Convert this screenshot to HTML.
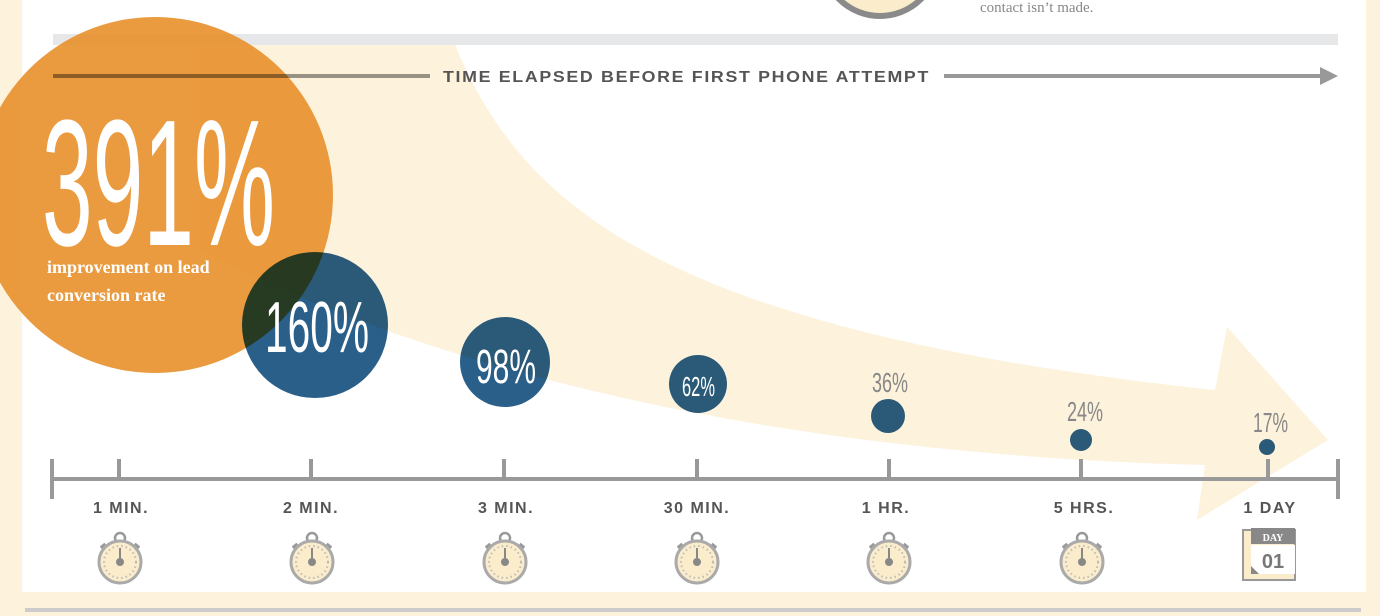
<!DOCTYPE html>
<html><head><meta charset="utf-8"><style>
html,body{margin:0;padding:0;background:#fdf2dc;}
svg{display:block}
.lab{font-family:"Liberation Sans",sans-serif;font-weight:bold;font-size:16px;fill:#555;letter-spacing:1.5px}
.num{font-family:"Liberation Sans",sans-serif;fill:#fff}
</style></head><body>
<svg width="1380" height="616" viewBox="0 0 1380 616" xmlns="http://www.w3.org/2000/svg">
<defs>
<g id="sw">
  <circle cx="0" cy="-24" r="5" fill="none" stroke="#999" stroke-width="2.5"/>
  <rect x="-3" y="-20" width="6" height="5" fill="#999"/>
  <rect x="-19" y="-18" width="6" height="5" fill="#999" transform="rotate(-40 -16 -15)"/>
  <rect x="13" y="-18" width="6" height="5" fill="#999" transform="rotate(40 16 -15)"/>
  <circle cx="0" cy="0" r="21" fill="#fbeccb" stroke="#aaa" stroke-width="3"/>
  <circle cx="0" cy="0" r="16" fill="none" stroke="#bbb" stroke-width="2" stroke-dasharray="1.5 3"/>
  <rect x="-1" y="-14" width="2" height="13" fill="#888"/>
  <circle cx="0" cy="0" r="4" fill="#888"/>
</g>
</defs>
<rect x="22" y="0" width="1344" height="592" fill="#fff"/>
<rect x="25" y="608" width="1336" height="4" fill="#ccc"/>
<circle cx="880" cy="-42" r="58" fill="#fbeccb" stroke="#8a8a8a" stroke-width="6"/>
<text x="980" y="12" font-family="'Liberation Serif',serif" font-size="15" fill="#888">contact isn’t made.</text>
<path d="M 455,45 C 520,200 650,330 1215,390 L 1227,327 L 1328,440 L 1197,520 L 1205,465 C 800,455 450,380 200,250 L 200,45 Z" fill="#fdf2dc"/>
<rect x="53" y="34" width="1285" height="11" fill="#e6e7e8"/>
<circle cx="155" cy="195" r="178" fill="#e8922f" opacity="0.92"/>
<rect x="53" y="74" width="377" height="4" fill="#999" style="mix-blend-mode:multiply"/>
<text x="443" y="82" class="lab" textLength="487" lengthAdjust="spacingAndGlyphs">TIME ELAPSED BEFORE FIRST PHONE ATTEMPT</text>
<rect x="944" y="74" width="382" height="4" fill="#999"/>
<polygon points="1320,67 1338,76 1320,85" fill="#999"/>
<text x="42" y="245" class="num" font-size="180" textLength="233" lengthAdjust="spacingAndGlyphs">391%</text>
<text x="47" y="273" font-family="'Liberation Serif',serif" font-weight="bold" font-size="18" fill="#fff">improvement on lead</text>
<text x="47" y="301" font-family="'Liberation Serif',serif" font-weight="bold" font-size="18" fill="#fff">conversion rate</text>
<g fill="#2a5f8a" style="mix-blend-mode:multiply">
<circle cx="315" cy="325" r="73"/>
<circle cx="505" cy="362" r="45"/>
<circle cx="698" cy="384" r="29"/>
<circle cx="888" cy="416" r="17"/>
<circle cx="1081" cy="440" r="11"/>
<circle cx="1267" cy="447" r="8"/>
</g>
<text x="265" y="352" class="num" font-size="72" textLength="104" lengthAdjust="spacingAndGlyphs">160%</text>
<text x="476" y="383" class="num" font-size="48" textLength="60" lengthAdjust="spacingAndGlyphs">98%</text>
<text x="682" y="396" class="num" font-size="28" textLength="33" lengthAdjust="spacingAndGlyphs">62%</text>
<g font-family="'Liberation Sans',sans-serif" fill="#888">
<text x="872" y="392" font-size="28" textLength="36" lengthAdjust="spacingAndGlyphs">36%</text>
<text x="1067" y="421" font-size="28" textLength="36" lengthAdjust="spacingAndGlyphs">24%</text>
<text x="1253" y="432" font-size="28" textLength="35" lengthAdjust="spacingAndGlyphs">17%</text>
</g>
<g fill="#999">
<rect x="51" y="477" width="1288" height="4"/>
<rect x="50" y="459" width="4" height="40"/>
<rect x="1336" y="459" width="4" height="40"/>
<rect x="117" y="459" width="4" height="20"/>
<rect x="309" y="459" width="4" height="20"/>
<rect x="502" y="459" width="4" height="20"/>
<rect x="695" y="459" width="4" height="20"/>
<rect x="887" y="459" width="4" height="20"/>
<rect x="1079" y="459" width="4" height="20"/>
<rect x="1266" y="459" width="4" height="20"/>
</g>
<text x="121" y="513" class="lab" text-anchor="middle">1 MIN.</text>
<text x="311" y="513" class="lab" text-anchor="middle">2 MIN.</text>
<text x="506" y="513" class="lab" text-anchor="middle">3 MIN.</text>
<text x="697" y="513" class="lab" text-anchor="middle">30 MIN.</text>
<text x="886" y="513" class="lab" text-anchor="middle">1 HR.</text>
<text x="1084" y="513" class="lab" text-anchor="middle">5 HRS.</text>
<text x="1270" y="513" class="lab" text-anchor="middle">1 DAY</text>
<use href="#sw" x="120" y="562"/>
<use href="#sw" x="312" y="562"/>
<use href="#sw" x="505" y="562"/>
<use href="#sw" x="697" y="562"/>
<use href="#sw" x="889" y="562"/>
<use href="#sw" x="1082" y="562"/>
<rect x="1243" y="530" width="52" height="50" fill="#fbeccb" stroke="#999" stroke-width="2"/>
<rect x="1251" y="528" width="44" height="16" fill="#888"/>
<text x="1273" y="541" text-anchor="middle" font-family="'Liberation Serif',serif" font-weight="bold" font-size="10" fill="#fff">DAY</text>
<rect x="1251" y="545" width="44" height="29" fill="#fff"/>
<text x="1273" y="568" text-anchor="middle" font-family="'Liberation Sans',sans-serif" font-weight="bold" font-size="20" fill="#777">01</text>
<polygon points="1251,566 1259,574 1251,574" fill="#888"/>
</svg>
</body></html>
